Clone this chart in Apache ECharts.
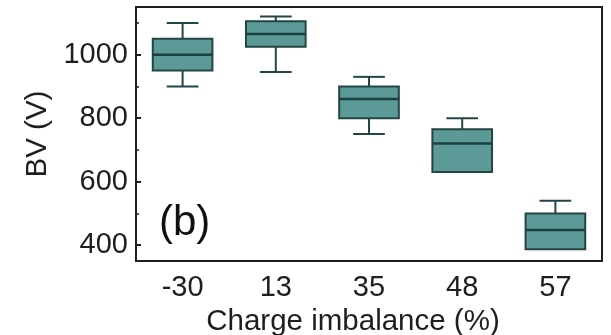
<!DOCTYPE html>
<html>
<head>
<meta charset="utf-8">
<script src="https://cdn.jsdelivr.net/npm/echarts@6/dist/echarts.min.js"></script>
<style>
html,body{margin:0;padding:0;background:#fff;}
#c{width:611px;height:335px;}
</style>
</head>
<body>
<div id="c"></div>
<script>
const categories = ['-30', '13', '35', '48', '57'];
const whiskerLow = [900, 945, 750, 630, 387];
const q1 = [950, 1025, 800, 630, 387];
const median = [1000, 1065, 860, 720, 448];
const q3 = [1050, 1105, 900, 765, 500];
const whiskerHigh = [1100, 1120, 930, 800, 540];
const majorTicks = [400, 600, 800, 1000];
const minorTicks = [500, 700, 900, 1100];

const data = categories.map((c, i) => [i, whiskerLow[i], q1[i], median[i], q3[i], whiskerHigh[i]]);
const FONT = 'Liberation Sans, Arial, sans-serif';
const ink = '#1e1e1e';
const edge = '#234544';

const chart = echarts.init(document.getElementById('c'), null, {renderer: 'canvas'});
chart.setOption({
  animation: false,
  backgroundColor: '#fff',
  grid: {left: 136, right: 9, top: 7, bottom: 74, containLabel: false, outerBoundsMode: 'none', show: true, borderColor: ink, borderWidth: 2, backgroundColor: 'transparent'},
  xAxis: {
    type: 'category', data: categories, boundaryGap: true,
    name: 'Charge imbalance (%)', nameLocation: 'middle', nameGap: 46,
    nameTextStyle: {fontFamily: FONT, fontSize: 29.5, color: ink, padding: [0, 32, 0, 0]},
    axisLine: {lineStyle: {color: ink, width: 2}},
    axisTick: {inside: true, length: 5, alignWithLabel: true, lineStyle: {color: ink, width: 2}},
    axisLabel: {fontFamily: FONT, fontSize: 29, color: ink, margin: 12},
    splitLine: {show: false}
  },
  yAxis: [{
    type: 'value', min: 350, max: 1150,
    name: 'BV (V)', nameLocation: 'middle', nameGap: 76,
    nameTextStyle: {fontFamily: FONT, fontSize: 29.5, color: ink},
    axisLine: {show: true, lineStyle: {color: ink, width: 2}},
    axisTick: {show: true, inside: true, length: 5, customValues: majorTicks, lineStyle: {color: ink, width: 2}},
    axisLabel: {fontFamily: FONT, fontSize: 29, color: ink, margin: 8, customValues: majorTicks, formatter: function (v) { return String(v); }},
    splitLine: {show: false}
  }, {
    type: 'value', min: 350, max: 1150, position: 'left',
    axisLine: {show: false},
    axisTick: {show: true, inside: true, length: 3, customValues: minorTicks, lineStyle: {color: ink, width: 1.5}},
    axisLabel: {show: false},
    splitLine: {show: false}
  }],
  graphic: [{
    type: 'text', left: 159, top: 202,
    style: {text: '(b)', fontFamily: FONT, fontSize: 42, fill: '#111'}
  }],
  series: [{
    type: 'custom',
    data: data,
    encode: {x: 0, y: [1, 2, 3, 4, 5]},
    renderItem: function (params, api) {
      const x = api.value(0);
      const pLow = api.coord([x, api.value(1)]);
      const pQ1 = api.coord([x, api.value(2)]);
      const pMed = api.coord([x, api.value(3)]);
      const pQ3 = api.coord([x, api.value(4)]);
      const pHigh = api.coord([x, api.value(5)]);
      const bw = api.size([1, 0])[0] * 0.64;
      const cw = api.size([1, 0])[0] * 0.34;
      const cx = pMed[0];
      const ls = {stroke: edge, lineWidth: 2};
      const children = [];
      if (pHigh[1] < pQ3[1]) {
        children.push({type: 'line', shape: {x1: cx, y1: pQ3[1], x2: cx, y2: pHigh[1]}, style: ls});
        children.push({type: 'line', shape: {x1: cx - cw / 2, y1: pHigh[1], x2: cx + cw / 2, y2: pHigh[1]}, style: ls});
      }
      if (pLow[1] > pQ1[1]) {
        children.push({type: 'line', shape: {x1: cx, y1: pQ1[1], x2: cx, y2: pLow[1]}, style: ls});
        children.push({type: 'line', shape: {x1: cx - cw / 2, y1: pLow[1], x2: cx + cw / 2, y2: pLow[1]}, style: ls});
      }
      children.push({type: 'rect', shape: {x: cx - bw / 2, y: pQ3[1], width: bw, height: pQ1[1] - pQ3[1]}, style: {fill: '#5c9a98', stroke: edge, lineWidth: 2}});
      children.push({type: 'line', shape: {x1: cx - bw / 2, y1: pMed[1], x2: cx + bw / 2, y2: pMed[1]}, style: {stroke: '#1b4140', lineWidth: 2.5}});
      return {type: 'group', children: children};
    }
  }]
});
</script>
</body>
</html>
